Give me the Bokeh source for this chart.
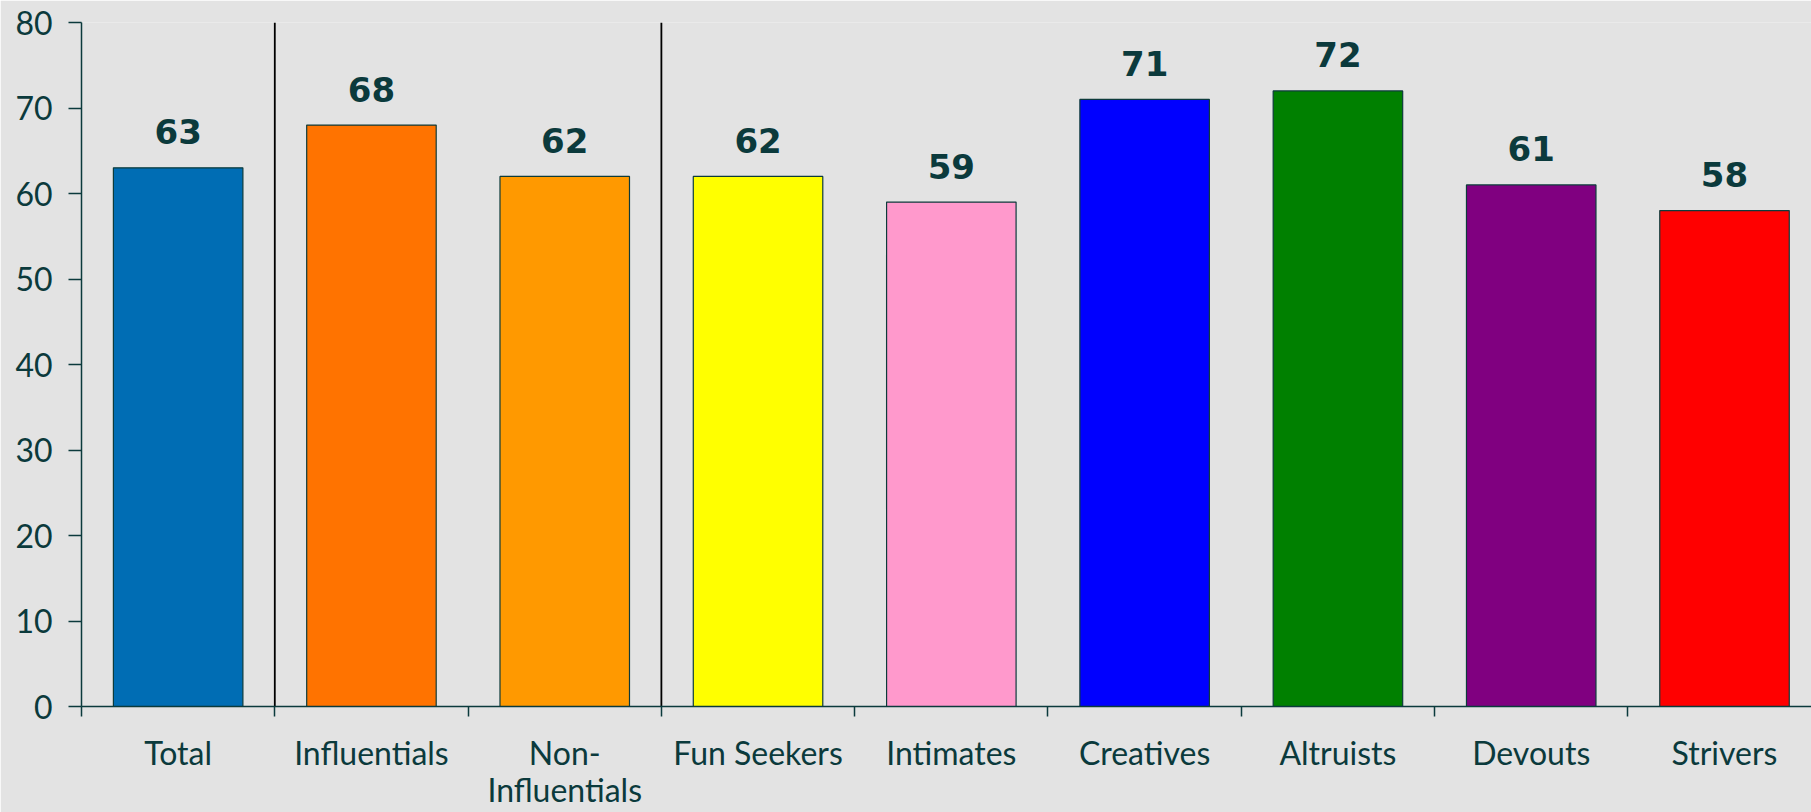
from bokeh.plotting import figure
from bokeh.models import Range1d, FixedTicker, ColumnDataSource
from bokeh.core.properties import value
from bokeh.embed import file_html
from bokeh.resources import INLINE

categories = ["Total", "Influentials", "Non-\nInfluentials", "Fun Seekers", "Intimates",
              "Creatives", "Altruists", "Devouts", "Strivers"]
values = [63, 68, 62, 62, 59, 71, 72, 61, 58]
colors = ["#006db4", "#ff7300", "#ff9900", "#ffff00", "#ff99cc",
          "#0000ff", "#008000", "#800080", "#ff0000"]
separators = [1, 3]
y_ticks = [0, 10, 20, 30, 40, 50, 60, 70, 80]

TEXT = "#0b3a3c"
BG = "#e3e3e3"

centers = [i + 0.5 for i in range(len(categories))]
src = ColumnDataSource(dict(x=centers, top=values, color=colors,
                            label=[str(v) for v in values]))

p = figure(width=1811, height=812, x_range=Range1d(0, 8.95), y_range=Range1d(0, 80),
           output_backend="svg", toolbar_location=None,
           min_border_left=81, min_border_right=0, min_border_top=22, min_border_bottom=106)

p.background_fill_color = BG
p.border_fill_color = BG
p.outline_line_color = None
p.xgrid.visible = False
p.ygrid.visible = False

p.vbar(x="x", top="top", width=0.67, bottom=0, fill_color="color",
       line_color="#0d3b3b", line_width=1.2, source=src)

p.segment(x0=separators, y0=[0] * len(separators), x1=separators, y1=[80] * len(separators),
          line_color="black", line_width=1.8)

p.text(x="x", y="top", text="label", source=src, text_align="center",
       text_baseline="alphabetic", y_offset=-36, text_font=value("DejaVu Sans"),
       text_font_style="bold", text_font_size="34px", text_color=TEXT)

# x axis
xa = p.xaxis[0]
xa.ticker = FixedTicker(ticks=centers, minor_ticks=list(range(len(categories) + 1)))
xa.major_label_overrides = {c: lab for c, lab in zip(centers, categories)}
xa.major_tick_out = 0
xa.major_tick_in = 0
xa.minor_tick_out = 10
xa.minor_tick_in = 0
xa.minor_tick_line_color = TEXT
xa.minor_tick_line_width = 1.5
xa.axis_line_color = TEXT
xa.axis_line_width = 1.5
xa.major_label_standoff = 16
xa.major_label_text_font = "Lato"
xa.major_label_text_font_size = "32px"
xa.major_label_text_line_height = 0.95
xa.major_label_text_color = TEXT

# y axis
ya = p.yaxis[0]
ya.ticker = FixedTicker(ticks=y_ticks)
ya.major_tick_out = 13
ya.major_tick_in = 0
ya.minor_tick_out = 0
ya.minor_tick_in = 0
ya.major_tick_line_color = TEXT
ya.major_tick_line_width = 1.5
ya.axis_line_color = TEXT
ya.axis_line_width = 1.5
ya.major_label_standoff = 16
ya.major_label_text_font = "Lato"
ya.major_label_text_font_size = "32px"
ya.major_label_text_color = TEXT

open("out.html", "w").write(file_html(p, INLINE))
